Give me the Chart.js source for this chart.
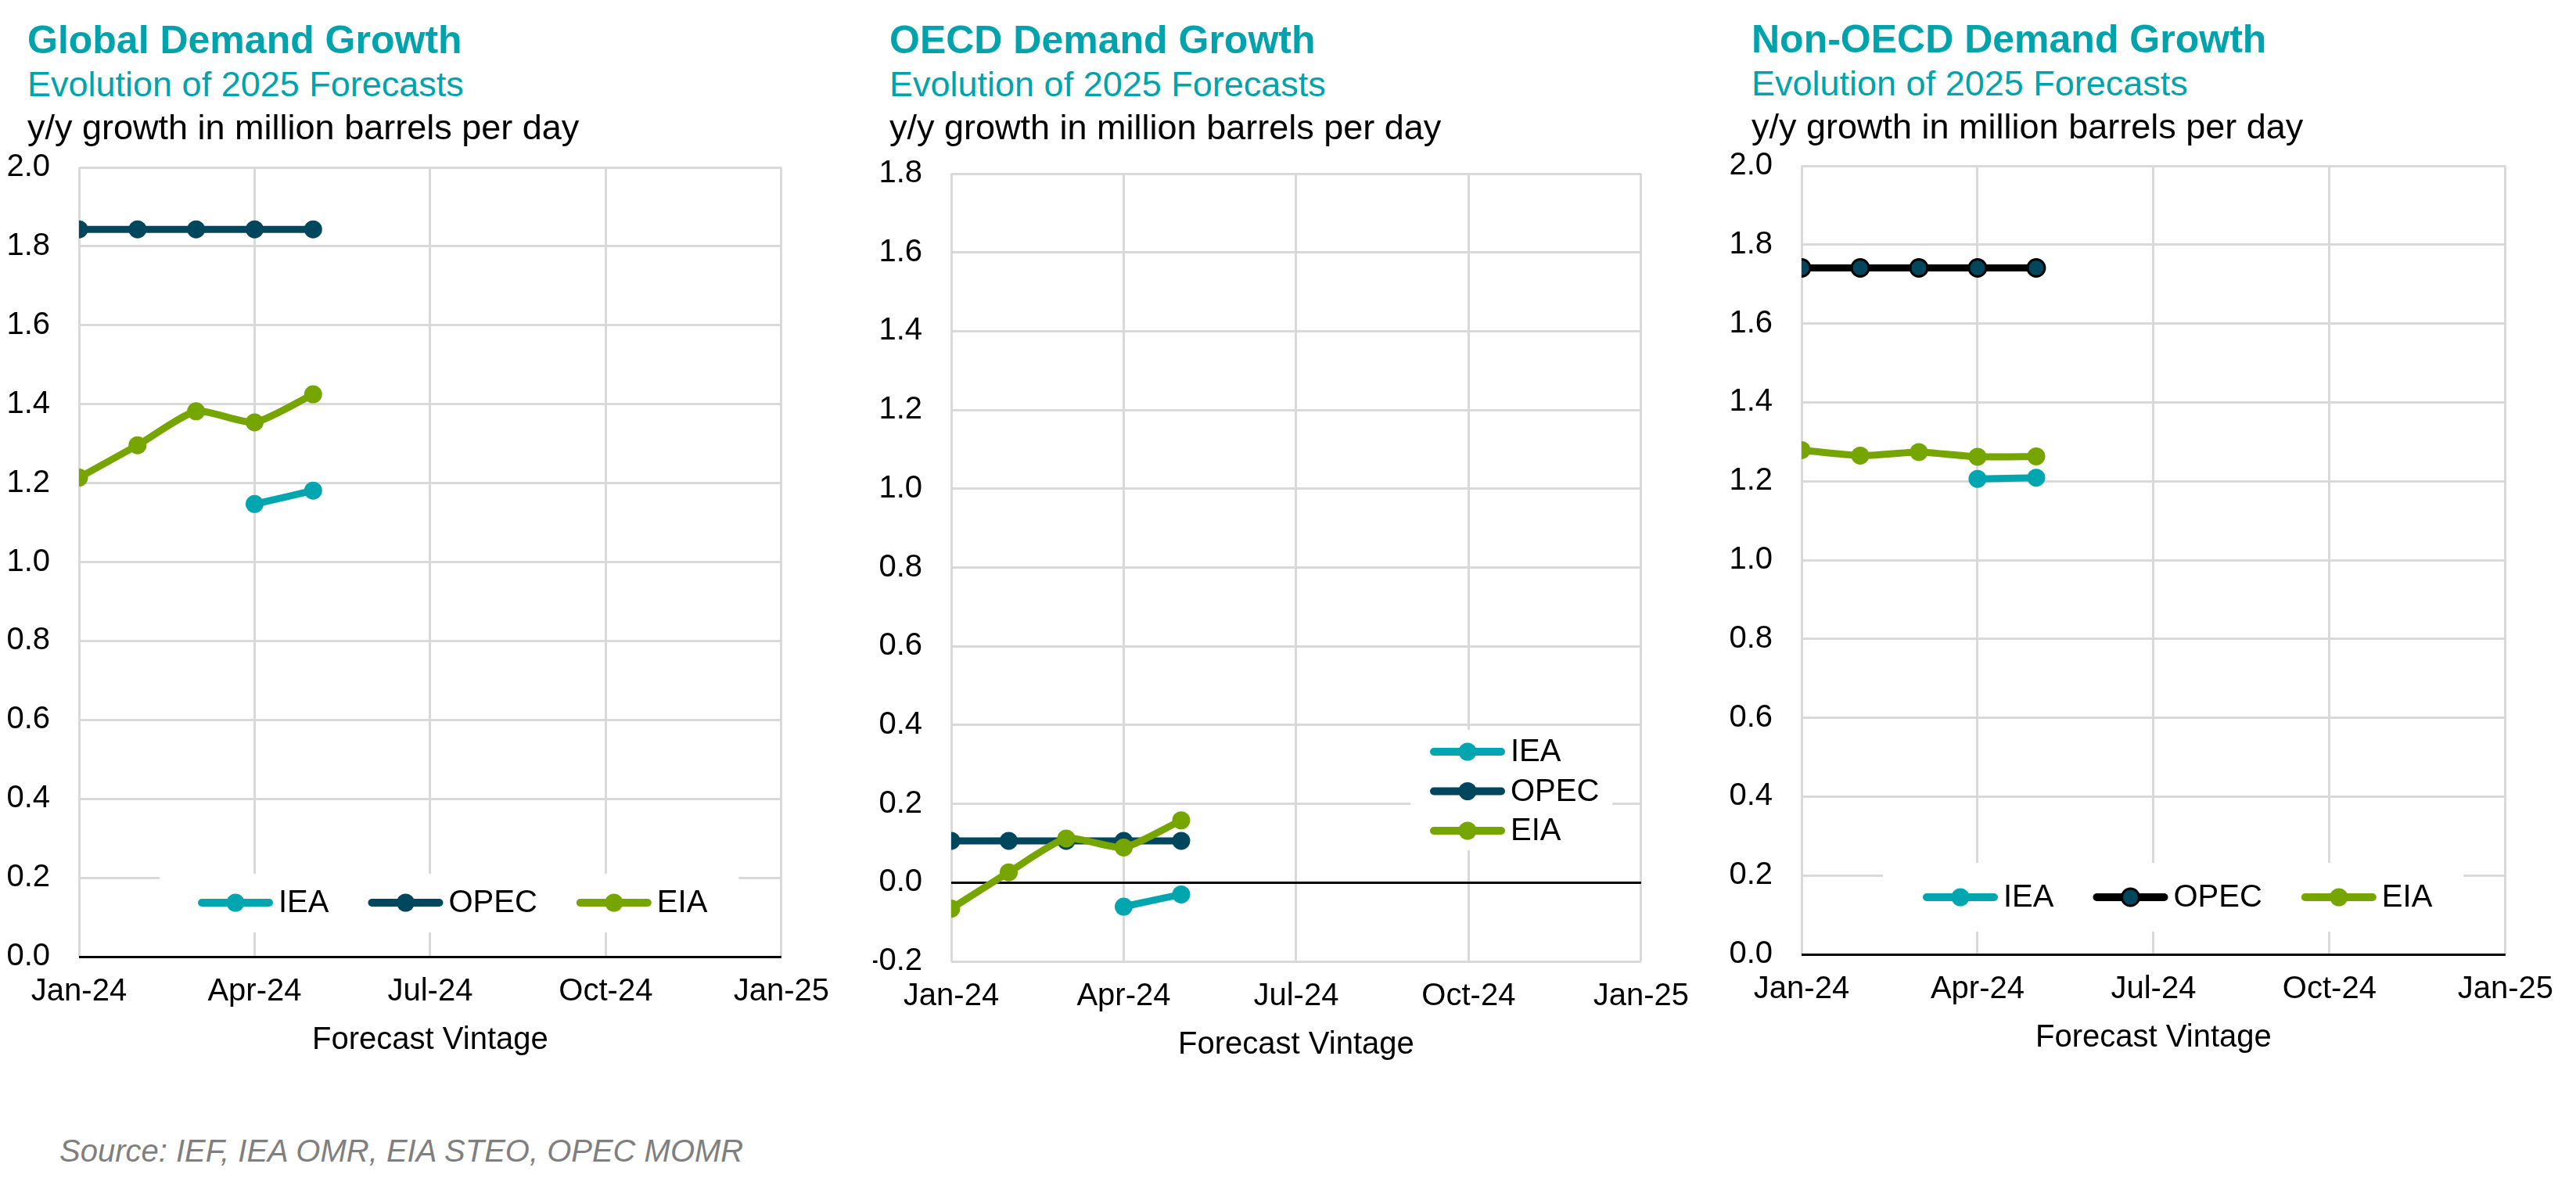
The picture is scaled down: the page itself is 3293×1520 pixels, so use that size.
<!DOCTYPE html>
<html>
<head>
<meta charset="utf-8">
<script src="https://cdn.jsdelivr.net/npm/chart.js@4.4.1/dist/chart.umd.min.js"></script>
<style>
    body { margin: 0; background: #fff; font-family: "Liberation Sans", Arial, sans-serif; }
    #page { position: relative; width: 3293px; height: 1520px; overflow: hidden; background: #fff; }
    .txt { position: absolute; white-space: nowrap; z-index: 2; }
    .title { font-size: 50px; line-height: 50px; font-weight: bold; color: #00A3AC; }
    .sub { font-size: 45px; line-height: 45px; color: #00A3AC; }
    .units { font-size: 45px; line-height: 45px; color: #000; }
    .source { font-size: 40px; line-height: 40px; font-style: italic; color: #7F7F7F; }
    canvas { position: absolute; z-index: 1; }
</style>
</head>
<body>
<div id="page">
    <div class="txt title" style="left:35px; top:26px;">Global Demand Growth</div>
    <div class="txt sub" style="left:35px; top:85px;">Evolution of 2025 Forecasts</div>
    <div class="txt units" style="left:35px; top:140px;">y/y growth in million barrels per day</div>

    <div class="txt title" style="left:1137px; top:26px;">OECD Demand Growth</div>
    <div class="txt sub" style="left:1137px; top:85px;">Evolution of 2025 Forecasts</div>
    <div class="txt units" style="left:1137px; top:140px;">y/y growth in million barrels per day</div>

    <div class="txt title" style="left:2239px; top:25px;">Non-OECD Demand Growth</div>
    <div class="txt sub" style="left:2239px; top:84px;">Evolution of 2025 Forecasts</div>
    <div class="txt units" style="left:2239px; top:139px;">y/y growth in million barrels per day</div>

    <div class="txt source" style="left:76px; top:1451px;">Source: IEF, IEA OMR, EIA STEO, OPEC MOMR</div>

    <canvas id="chartGlobal"></canvas>
    <canvas id="chartOecd"></canvas>
    <canvas id="chartNonOecd"></canvas>
</div>

<script>
// forecast vintages as months after Jan-24 (Jan..May 2024)
const vintageMonths = [0, 1, 2, 3, 4];
const xTickLabels = ['Jan-24', 'Apr-24', 'Jul-24', 'Oct-24', 'Jan-25'];
const seriesNames = ['IEA', 'OPEC', 'EIA'];

// Global
const globalIEA = [null, null, null, 1.147, 1.181];
const globalOPEC = [1.843, 1.843, 1.843, 1.843, 1.843];
const globalEIA = [1.214, 1.296, 1.382, 1.354, 1.425];
const globalYRange = [0, 2.0];

// OECD
const oecdIEA = [null, null, null, -0.061, -0.030];
const oecdOPEC = [0.106, 0.106, 0.106, 0.106, 0.106];
const oecdEIA = [-0.066, 0.026, 0.112, 0.089, 0.158];
const oecdYRange = [-0.2, 1.8];

// Non-OECD
const nonOecdIEA = [null, null, null, 1.206, 1.209];
const nonOecdOPEC = [1.741, 1.741, 1.741, 1.741, 1.741];
const nonOecdEIA = [1.279, 1.265, 1.274, 1.262, 1.263];
const nonOecdYRange = [0, 2.0];

const COLORS = { IEA: '#00A6AF', OPEC: '#00465C', EIA: '#76A500' };
const GRID = '#D9D9D9';

Chart.defaults.font.family = '"Liberation Sans", Arial, sans-serif';
Chart.defaults.font.size = 40;
Chart.defaults.color = '#000';

const Y_AXIS_W = 100;   // room for tick labels left of the plot
const X_AXIS_H = 131;   // tick labels + "Forecast Vintage"
// must be bigger than the y axis' own top padding (half label + tick padding = ~61)
const PAD_TOP = 70;
const PAD_RIGHT = 80;

// legend drawn as line + dot, like the Excel original
const lineLegend = {
    id: 'lineLegend',
    afterDatasetsDraw(chart, args, opts) {
        const ctx = chart.ctx;
        const area = chart.chartArea;
        const sets = chart.data.datasets;
        const lineLen = 96;
        const textGap = 7;
        ctx.save();
        ctx.font = '40px "Liberation Sans", Arial, sans-serif';

        // work out item positions first so the white box can go under them
        const items = [];
        let x = area.left + opts.x;
        let y = area.bottom + opts.y;
        sets.forEach(function (ds) {
            const tw = ctx.measureText(ds.label).width;
            items.push({ ds: ds, x: x, y: y, tw: tw });
            if (opts.layout === 'row') {
                x += lineLen + textGap + tw + opts.gap;
            } else {
                y += opts.gap;
            }
        });
        let maxRight = 0;
        items.forEach(function (it) { maxRight = Math.max(maxRight, it.x + lineLen + textGap + it.tw); });
        const bx = items[0].x - opts.boxPad[3];
        const by = items[0].y - opts.boxPad[0];
        const bw = maxRight + opts.boxPad[1] - bx;
        const bh = items[items.length - 1].y + opts.boxPad[2] - by;
        ctx.fillStyle = '#fff';
        ctx.fillRect(bx, by, bw, bh);

        items.forEach(function (it) {
            const ds = it.ds;
            ctx.strokeStyle = ds.borderColor;
            ctx.lineWidth = 10;
            ctx.lineCap = 'round';
            ctx.beginPath();
            ctx.moveTo(it.x + 5, it.y);
            ctx.lineTo(it.x + lineLen - 5, it.y);
            ctx.stroke();

            ctx.beginPath();
            ctx.arc(it.x + lineLen / 2, it.y, ds.pointRadius, 0, Math.PI * 2);
            ctx.fillStyle = ds.pointBackgroundColor;
            ctx.fill();
            if (ds.pointBorderWidth > 0) {
                ctx.lineWidth = ds.pointBorderWidth;
                ctx.strokeStyle = ds.pointBorderColor;
                ctx.stroke();
            }

            ctx.fillStyle = '#000';
            ctx.textAlign = 'left';
            ctx.textBaseline = 'middle';
            ctx.fillText(ds.label, it.x + lineLen + textGap, it.y + 1);
        });
        ctx.restore();
    }
};

function toPoints(values) {
    return vintageMonths.map(function (m, i) { return { x: m, y: values[i] }; });
}

function makeDataset(name, values, blackOpecLine) {
    const c = COLORS[name];
    const ds = {
        label: name,
        data: toPoints(values),
        borderColor: c,
        backgroundColor: c,
        pointBackgroundColor: c,
        pointBorderColor: c,
        pointBorderWidth: 0,
        pointRadius: 11.5,
        pointHoverRadius: 11.5,
        borderWidth: 9,
        tension: 0.2,
        spanGaps: false,
        order: name === 'EIA' ? 0 : (name === 'OPEC' ? 1 : 2)
    };
    if (blackOpecLine && name === 'OPEC') {
        ds.borderColor = '#000';
        ds.pointBorderColor = '#000';
        ds.pointBorderWidth = 3;
        ds.pointRadius = 11;
    }
    return ds;
}

// plot box is placed in page pixels; canvas gets the margins around it
function buildChart(id, plot, yRange, series, legendOpts, blackOpecLine) {
    const canvas = document.getElementById(id);
    const left = plot.left - Y_AXIS_W;
    const top = plot.top - PAD_TOP;
    const w = (plot.right + PAD_RIGHT) - left;
    const h = (plot.bottom + X_AXIS_H) - top;
    canvas.style.left = left + 'px';
    canvas.style.top = top + 'px';
    canvas.width = w;
    canvas.height = h;
    canvas.style.width = w + 'px';
    canvas.style.height = h + 'px';

    return new Chart(canvas.getContext('2d'), {
        type: 'line',
        data: {
            datasets: seriesNames.map(function (n, i) { return makeDataset(n, series[i], blackOpecLine); })
        },
        options: {
            responsive: false,
            animation: false,
            devicePixelRatio: 1,
            events: [],
            layout: { padding: { top: PAD_TOP, right: PAD_RIGHT, bottom: 0, left: 0 } },
            plugins: {
                legend: { display: false },
                tooltip: { enabled: false },
                lineLegend: legendOpts
            },
            scales: {
                x: {
                    type: 'linear',
                    min: 0,
                    max: 12,
                    afterFit: function (s) { s.height = X_AXIS_H; },
                    afterBuildTicks: function (s) {
                        s.ticks = xTickLabels.map(function (l, i) { return { value: i * 3 }; });
                    },
                    ticks: {
                        padding: 21,
                        maxRotation: 0,
                        callback: function (v) { return xTickLabels[Math.round(v / 3)]; }
                    },
                    grid: { color: GRID, lineWidth: 3, drawTicks: false },
                    border: { display: false },
                    title: { display: true, text: 'Forecast Vintage', padding: 0, font: { size: 40 } }
                },
                y: {
                    min: yRange[0],
                    max: yRange[1],
                    afterFit: function (s) { s.width = Y_AXIS_W; },
                    ticks: {
                        stepSize: 0.2,
                        padding: 37,
                        callback: function (v) { return Number(v).toFixed(1); }
                    },
                    grid: {
                        drawTicks: false,
                        lineWidth: 3,
                        color: function (c) { return Math.abs(c.tick.value) < 1e-9 ? '#000' : GRID; }
                    },
                    border: { display: false }
                }
            }
        },
        plugins: [lineLegend]
    });
}

buildChart('chartGlobal',
    { left: 101, right: 1001, top: 214, bottom: 1223 },
    globalYRange,
    [globalIEA, globalOPEC, globalEIA],
    { layout: 'row', x: 152, y: -69, gap: 50, boxPad: [37, 40, 38, 49] },
    false);

buildChart('chartOecd',
    { left: 1216, right: 2100, top: 222, bottom: 1229 },
    oecdYRange,
    [oecdIEA, oecdOPEC, oecdEIA],
    { layout: 'column', x: 612, y: -268, gap: 50.5, boxPad: [28, 17, 25, 25] },
    false);

buildChart('chartNonOecd',
    { left: 2303, right: 3205, top: 212, bottom: 1220 },
    nonOecdYRange,
    [nonOecdIEA, nonOecdOPEC, nonOecdEIA],
    { layout: 'row', x: 155, y: -73, gap: 50, boxPad: [44, 40, 44, 51] },
    true);
</script>
</body>
</html>
